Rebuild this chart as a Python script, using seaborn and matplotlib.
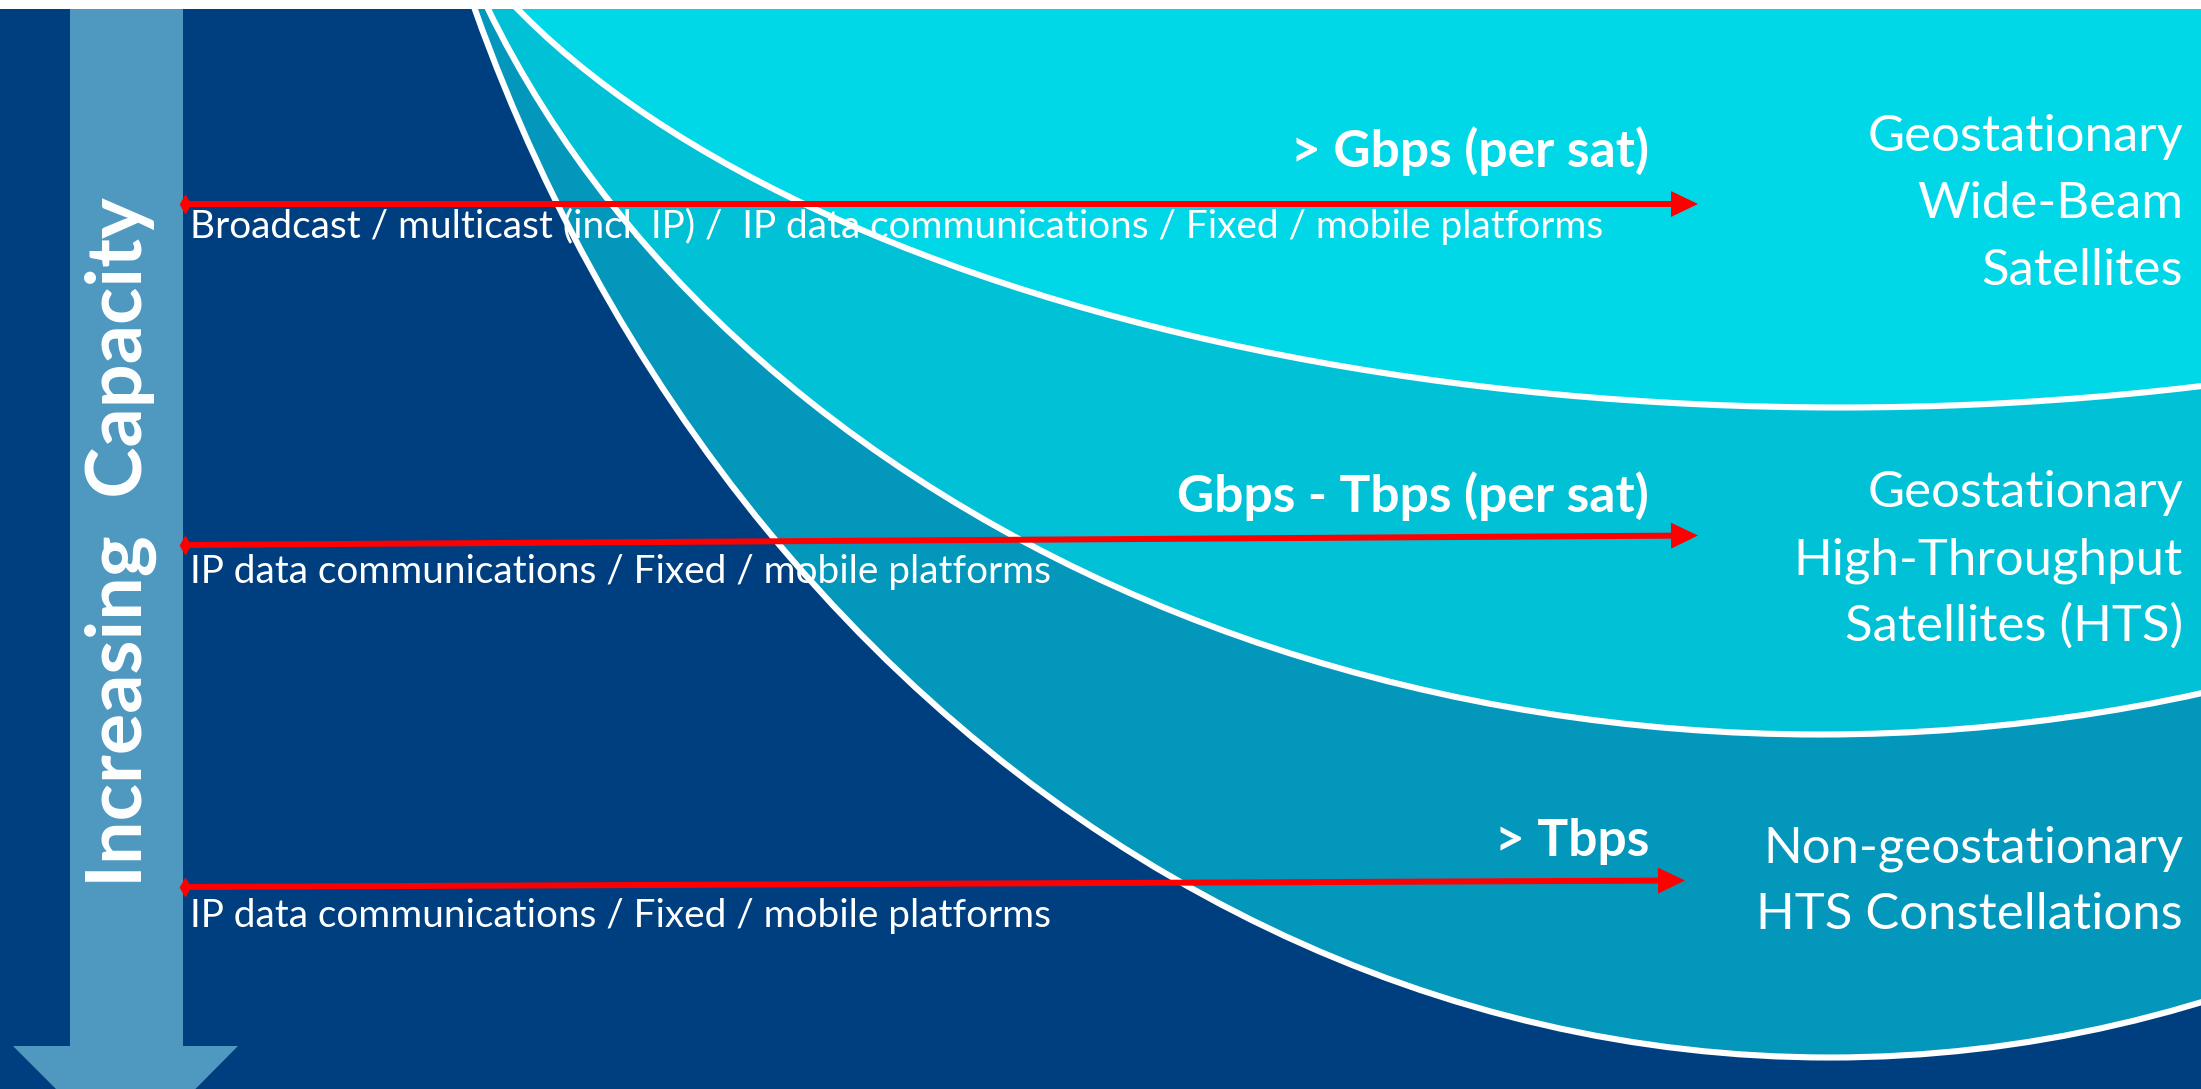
import matplotlib
matplotlib.use("Agg")
import matplotlib.pyplot as plt
from matplotlib.patches import Ellipse, Rectangle, Polygon, FancyArrow
import seaborn as sns

# Chart content
sat_types = [
    "Geostationary\nWide-Beam\nSatellites",
    "Geostationary\nHigh-Throughput\nSatellites (HTS)",
    "Non-geostationary\nHTS Constellations",
]
capacities = ["> Gbps (per sat)", "Gbps - Tbps (per sat)", "> Tbps"]
services = [
    "Broadcast / multicast (incl. IP) /  IP data communications / Fixed / mobile platforms",
    "IP data communications / Fixed / mobile platforms",
    "IP data communications / Fixed / mobile platforms",
]
axis_label = "Increasing  Capacity"

sns.set_theme(style="white")
plt.rcParams["font.family"] = ["Lato", "DejaVu Sans"]

NAVY = "#003F7F"
band_colors = ["#00D8E7", "#00C1D6", "#0297BB"]
shaft_color = "#4F98C0"

W, H = 2201, 1089
fig = plt.figure(figsize=(W / 100, H / 100), dpi=100)
fig.patch.set_facecolor(NAVY)
ax = fig.add_axes([0, 0, 1, 1])
ax.set_xlim(0, W)
ax.set_ylim(H, 0)
ax.axis("off")

# Bands: big ellipses, fills below the text, white rims above it
ellipses = [(1840, -276, 2910, 1367), (1820, -403, 2858, 2275), (1830, -637, 2932, 3389)]
for (cx, cy, w, h), c in reversed(list(zip(ellipses, band_colors))):
    ax.add_patch(Ellipse((cx, cy), w, h, facecolor=c, edgecolor="none", zorder=1))
for cx, cy, w, h in ellipses:
    ax.add_patch(Ellipse((cx, cy), w, h, fill=False, edgecolor="white", lw=4.4, zorder=4))

# Big "increasing capacity" arrow
ax.add_patch(Rectangle((70, 9), 112.5, 1037, facecolor=shaft_color, edgecolor="none", zorder=2))
ax.add_patch(Polygon([(13, 1046), (238, 1046), (126, 1159)], facecolor=shaft_color,
                     edgecolor="none", zorder=2))
ax.add_patch(Rectangle((0, 0), W, 9, facecolor="white", edgecolor="none", zorder=10))

# Red arrows, one per row
arrows = [(183, 204, 1698, 204), (183, 545, 1698, 535.5), (183, 887, 1685, 880.5)]
for x0, y0, x1, y1 in arrows:
    ax.add_patch(FancyArrow(x0, y0, x1 - x0, y1 - y0, width=6, head_width=26, head_length=27,
                            length_includes_head=True, color="red", lw=0, zorder=5))
    ax.plot([x0 + 2], [y0], marker="d", ms=9, color="red", zorder=5)

renderer = fig.canvas.get_renderer()


def fit_size(s, target_px, **kw):
    probe = ax.text(0, 0, s, fontsize=20, **kw)
    w = probe.get_window_extent(renderer).width
    probe.remove()
    return 20 * target_px / w


small_fs = fit_size(services[1], 860)
bold_fs = fit_size(capacities[1], 473, fontweight="bold")
label_fs = fit_size("Geostationary", 316)
vert_fs = fit_size(axis_label, 690, fontweight="bold")

service_base = [238, 583, 927]
for s, yb in zip(services, service_base):
    ax.text(190, yb, s, color="white", fontsize=small_fs, va="baseline", ha="left", zorder=3)

cap_base = [167, 512, 856]
for s, yb in zip(capacities, cap_base):
    ax.text(1649, yb, s, color="white", fontsize=bold_fs, fontweight="bold",
            va="baseline", ha="right", zorder=6)

label_base = [[151, 218, 285], [507, 574, 641], [862, 929]]
for s, bases in zip(sat_types, label_base):
    for line, yb in zip(s.split("\n"), bases):
        ax.text(2183, yb, line, color="white", fontsize=label_fs, va="baseline", ha="right", zorder=6)

ax.text(121, 542, axis_label, color="white", fontsize=vert_fs, fontweight="bold",
        rotation=90, ha="center", va="center", zorder=6)

fig.savefig("out.png", dpi=100, facecolor=NAVY)
